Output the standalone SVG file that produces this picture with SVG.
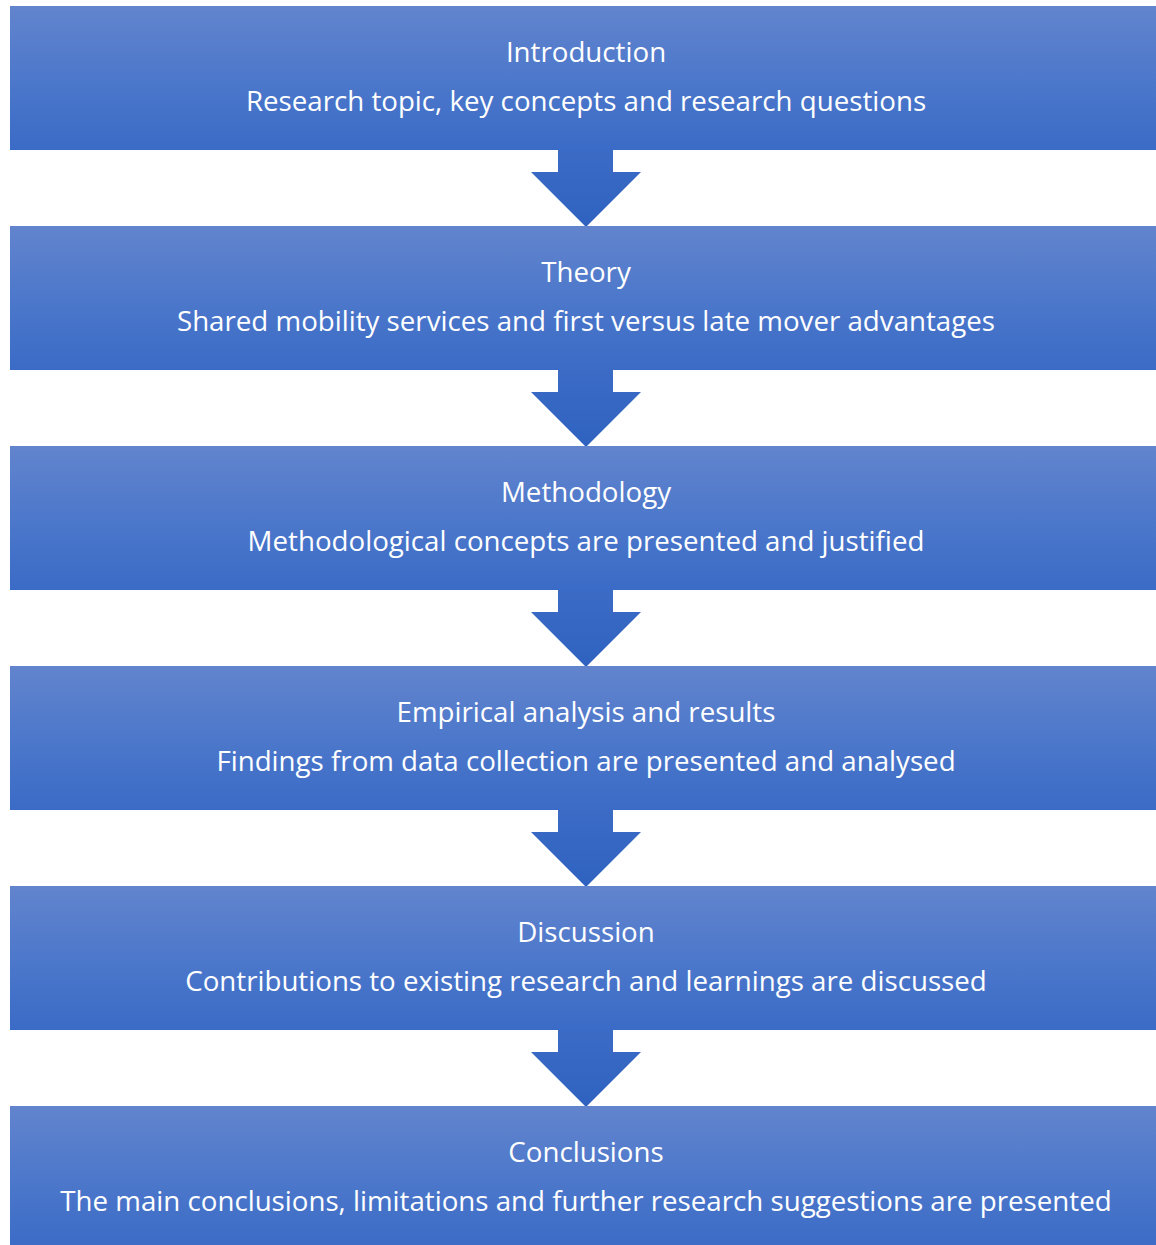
<svg xmlns="http://www.w3.org/2000/svg" width="1156" height="1245" viewBox="0 0 1156 1245">
  <defs>
    <linearGradient id="boxFill" x1="0" y1="0" x2="0" y2="1">
      <stop offset="0" stop-color="#6284cd"/>
      <stop offset="0.5" stop-color="#4d78cb"/>
      <stop offset="1" stop-color="#3a6bc6"/>
    </linearGradient>
    <linearGradient id="arrowFill" x1="0" y1="0" x2="0" y2="1">
      <stop offset="0" stop-color="#3b6bc5"/>
      <stop offset="1" stop-color="#2f62c0"/>
    </linearGradient>
  </defs>
  <style>
    .box { fill: url(#boxFill); }
    .arrow { fill: url(#arrowFill); }
    text { font-family: "Open Sans", "Liberation Sans", sans-serif; font-size: 27.7px; fill: #ffffff; text-anchor: middle; }
  </style>
  <rect width="1156" height="1245" fill="#ffffff"/>

  <!-- connectors: block arrows between sections -->
  <g id="connectors">
    <polygon class="arrow" points="558,150 613,150 613,172 641,172 586,227 531,172 558,172"/>
    <polygon class="arrow" points="558,370 613,370 613,392 641,392 586,447 531,392 558,392"/>
    <polygon class="arrow" points="558,590 613,590 613,612 641,612 586,667 531,612 558,612"/>
    <polygon class="arrow" points="558,810 613,810 613,832 641,832 586,887 531,832 558,832"/>
    <polygon class="arrow" points="558,1030 613,1030 613,1052 641,1052 586,1107 531,1052 558,1052"/>
  </g>

  <g id="introduction">
    <rect class="box" x="10" y="6" width="1150" height="144"/>
    <text x="586" y="62">Introduction</text>
    <text x="586" y="111">Research topic, key concepts and research questions</text>
  </g>
  <g id="theory">
    <rect class="box" x="10" y="226" width="1150" height="144"/>
    <text x="586" y="282">Theory</text>
    <text x="586" y="331">Shared mobility services and first versus late mover advantages</text>
  </g>
  <g id="methodology">
    <rect class="box" x="10" y="446" width="1150" height="144"/>
    <text x="586" y="502">Methodology</text>
    <text x="586" y="551">Methodological concepts are presented and justified</text>
  </g>
  <g id="empirical">
    <rect class="box" x="10" y="666" width="1150" height="144"/>
    <text x="586" y="722">Empirical analysis and results</text>
    <text x="586" y="771">Findings from data collection are presented and analysed</text>
  </g>
  <g id="discussion">
    <rect class="box" x="10" y="886" width="1150" height="144"/>
    <text x="586" y="942">Discussion</text>
    <text x="586" y="991">Contributions to existing research and learnings are discussed</text>
  </g>
  <g id="conclusions">
    <rect class="box" x="10" y="1106" width="1150" height="144"/>
    <text x="586" y="1162">Conclusions</text>
    <text x="586" y="1211">The main conclusions, limitations and further research suggestions are presented</text>
  </g>
</svg>
